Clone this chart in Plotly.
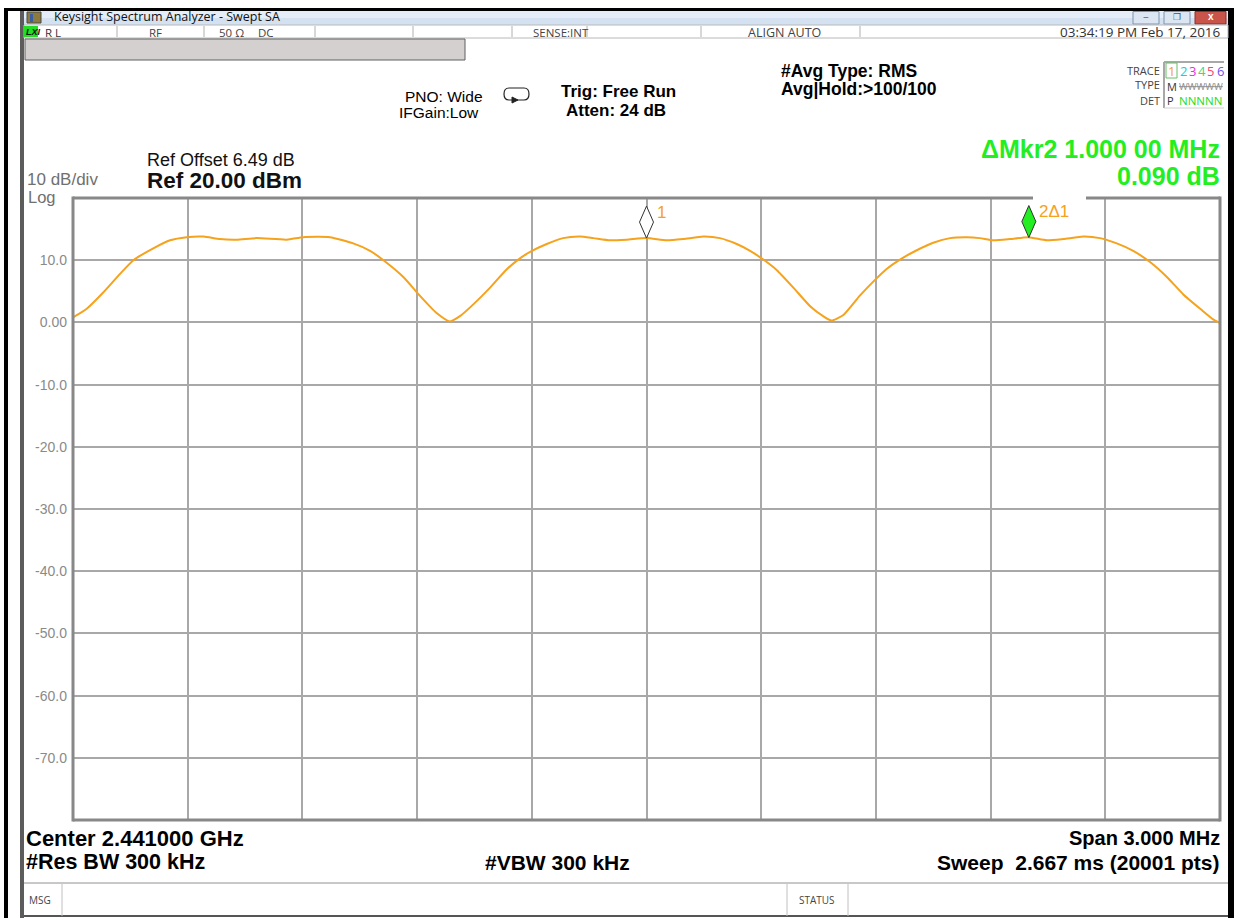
import plotly.graph_objects as go

freq_mhz = [2439.500, 2439.536, 2439.579, 2439.623, 2439.658, 2439.710, 2439.754, 2439.797,
            2439.841, 2439.884, 2439.928, 2439.980, 2440.059, 2440.102, 2440.172, 2440.233,
            2440.277, 2440.312, 2440.364, 2440.407, 2440.451, 2440.486,
            2440.512, 2440.547, 2440.591, 2440.634, 2440.669, 2440.698, 2440.739, 2440.782,
            2440.826, 2440.861, 2440.905, 2440.948, 2441.000, 2441.053, 2441.096, 2441.149,
            2441.192, 2441.236, 2441.271, 2441.301, 2441.341, 2441.384, 2441.428, 2441.462,
            2441.484,
            2441.515, 2441.558, 2441.597, 2441.628, 2441.663, 2441.707, 2441.750, 2441.794,
            2441.838, 2441.872, 2441.907, 2441.951, 2441.999, 2442.047, 2442.090, 2442.143,
            2442.186, 2442.230, 2442.273, 2442.317, 2442.361, 2442.404, 2442.450, 2442.483,
            2442.500]
level_dbm = [0.8, 2.2, 4.8, 7.8, 10.0, 11.9, 13.2, 13.7,
             13.8, 13.4, 13.3, 13.55, 13.3, 13.7, 13.7, 12.7,
             11.5, 10.0, 7.3, 4.3, 1.5, 0.15,
             1.0, 2.9, 5.6, 8.5, 10.3, 11.4, 12.6, 13.55,
             13.8, 13.55, 13.2, 13.3, 13.55, 13.2, 13.4, 13.8,
             13.55, 12.6, 11.5, 10.3, 8.4, 5.6, 2.6, 1.0,
             0.3,
             1.2, 4.3, 6.8, 8.6, 10.1, 11.6, 12.8, 13.55,
             13.7, 13.55, 13.2, 13.4, 13.7, 13.2, 13.4, 13.8,
             13.55, 12.7, 11.5, 9.7, 7.3, 4.5, 2.1, 0.45,
             -0.1]

marker_freq = [2441.000, 2442.000]
marker_level = [13.55, 13.64]
marker_label = ["1", "2\u03941"]

y_tick_vals = [10, 0, -10, -20, -30, -40, -50, -60, -70]
y_tick_text = ["10.0", "0.00", "-10.0", "-20.0", "-30.0", "-40.0", "-50.0", "-60.0", "-70.0"]

start_mhz, stop_mhz = 2439.5, 2442.5
ref_level, bottom_level = 20, -80

# ---------------- geometry helpers (pixel -> paper) ----------------
W, H = 1239, 918
L, R, T, B = 73, 1220, 198, 820
def px(x):
    return (x - L) / (R - L)
def py(y):
    return (B - y) / (B - T)

FONT = "Liberation Sans, Arial, sans-serif"
UIFONT = "Open Sans, DejaVu Sans, sans-serif"
shapes = []
annos = []

def rect(x0, y0, x1, y1, fill=None, line=None, lw=1, layer="above"):
    shapes.append(dict(type="rect", xref="paper", yref="paper",
                       x0=px(x0), x1=px(x1), y0=py(y1), y1=py(y0),
                       fillcolor=fill if fill else "rgba(0,0,0,0)",
                       line=dict(color=line if line else "rgba(0,0,0,0)", width=lw if line else 0),
                       layer=layer))

def seg(x0, y0, x1, y1, color, lw=1):
    shapes.append(dict(type="line", xref="paper", yref="paper",
                       x0=px(x0), x1=px(x1), y0=py(y0), y1=py(y1),
                       line=dict(color=color, width=lw)))

def text(x, y, s, size, color="#000", anchor="left", family=FONT):
    annos.append(dict(xref="paper", yref="paper", x=px(x), y=py(y), text=s, showarrow=False,
                      xanchor=anchor, yanchor="middle", borderpad=0,
                      font=dict(size=size, color=color, family=family)))

# ---------------- outer frame / window chrome ----------------
rect(4, 8, 1234, 11, fill="#000")          # top black frame
rect(4, 8, 8, 918, fill="#000")            # left black frame
rect(1228, 8, 1234, 918, fill="#000")      # right black frame
rect(20, 11, 24, 918, fill="#5c5c5c")      # window left edge
# title bar
rect(24, 11, 1228, 18, fill="#e4edf8")
rect(24, 18, 1228, 25, fill="#d3e1f1")
rect(27, 12, 41, 23, fill="#8c7b3c", line="#4a4a4a", lw=1)
rect(30, 14, 33, 22, fill="#3a5fa0")
text(53, 17, "Keysight Spectrum Analyzer - Swept SA", 12.5, "#111", family=UIFONT)
# window buttons
rect(1133, 11.5, 1159, 24, fill="#dce6f2", line="#7d93b0", lw=1)
text(1146, 17, "\u2012", 9, "#3a4f6f", anchor="center", family=UIFONT)
rect(1164, 11.5, 1190, 24, fill="#dce6f2", line="#7d93b0", lw=1)
text(1177, 17, "\u2750", 9, "#3a4f6f", anchor="center", family="DejaVu Sans")
rect(1195, 11.5, 1226, 24, fill="#c9554a", line="#8a3028", lw=1)
text(1210.5, 17, "<b>x</b>", 10, "#fff", anchor="center", family=FONT)
# status row
rect(24, 25, 1228, 38, fill="#ffffff", line="#b8b8b8", lw=1)
rect(24, 26, 38, 37, fill="#22dd22")
text(25, 31.5, "<b><i>LXI</i></b>", 9, "#111")
for sx in [117, 204, 315, 413, 512, 587, 701, 860]:
    seg(sx, 26, sx, 37, "#b0b0b0", 1)
text(44, 32, "R L", 11.5, "#333", family=UIFONT)
text(155, 32, "RF", 11.5, "#444", anchor="center", family=UIFONT)
text(218, 32, "50 \u03a9", 11.5, "#444", family=UIFONT)
text(257, 32, "DC", 11.5, "#444", family=UIFONT)
text(561, 32, "SENSE:INT", 11.5, "#444", anchor="center", family=UIFONT)
text(784, 32, "ALIGN AUTO", 12.5, "#444", anchor="center", family=UIFONT)
text(1222, 32, "03:34:19 PM Feb 17, 2016", 13.5, "#333", anchor="right", family=UIFONT)
# gray message bar
rect(25, 39, 465, 60, fill="#d4d0d0", line="#606060", lw=1)

# settings block
text(404, 97, "PNO: Wide", 15.5, "#000")
text(398, 113, "IFGain:Low", 15.5, "#000")
shapes.append(dict(type="path", xref="paper", yref="paper", layer="above",
                   path="M {a},{b} L {c},{b} Q {d},{b} {d},{e} Q {d},{f} {c},{f} L {a},{f} Q {g},{f} {g},{e} Q {g},{b} {a},{b} Z".format(
                       a=px(509), c=px(524), d=px(529), g=px(504), b=py(88), e=py(94), f=py(100)),
                   line=dict(color="#222", width=1.2)))
shapes.append(dict(type="path", xref="paper", yref="paper", layer="above",
                   path="M {a},{b} L {c},{d} L {c},{e} Z".format(a=px(518), b=py(100), c=px(512), d=py(97), e=py(103)),
                   fillcolor="#222", line=dict(color="#222", width=1)))
text(560, 91, "<b>Trig: Free Run</b>", 17, "#000")
text(565, 110, "<b>Atten: 24 dB</b>", 17, "#000")
text(780, 71, "<b>#Avg Type: RMS</b>", 17.5, "#000")
text(780, 89, "<b>Avg|Hold:&gt;100/100</b>", 17.5, "#000")

# trace table
text(1161, 70, "TRACE", 11, "#444", anchor="right", family=UIFONT)
text(1161, 85, "TYPE", 11, "#444", anchor="right", family=UIFONT)
text(1161, 100, "DET", 11, "#444", anchor="right", family=UIFONT)
seg(1164, 62, 1224, 62, "#a8a8a8", 2)
seg(1164, 62, 1164, 108, "#a8a8a8", 2)
seg(1164, 108, 1224, 108, "#d0d0d0", 1)
rect(1166, 63, 1177, 78, line="#66c066", lw=1)
text(1171.5, 71, "1", 13, "#f5a21c", anchor="center", family=UIFONT)
for i, (ch, col) in enumerate(zip("23456", ["#20c8e0", "#e030e0", "#40d880", "#ff4070", "#7050f0"])):
    text(1183 + i * 9.3, 71, ch, 13, col, anchor="center", family=UIFONT)
text(1166, 86, "M", 11, "#333", family=UIFONT)
text(1178, 86, "<s>WWWWW</s>", 9.5, "#8c8c8c", family=UIFONT)
text(1166, 101, "P", 11, "#333", family=UIFONT)
text(1178, 101, "NNNNN", 11.5, "#22dd22", family=UIFONT)

# delta marker readout
text(1221, 148.5, "<b>\u0394Mkr2 1.000 00 MHz</b>", 25, "#22ee22", anchor="right")
text(1221, 176, "<b>0.090 dB</b>", 25, "#22ee22", anchor="right")

# reference block
text(146, 160, "Ref Offset 6.49 dB", 18, "#111")
text(146, 180, "<b>Ref 20.00 dBm</b>", 22.5, "#111")
text(26, 179.5, "10 dB/div", 17, "#707070")
text(27, 197, "Log", 16.5, "#707070")

# graticule border (gap in top edge where the marker label sits)
BC = "#888888"
seg(L, T, 1033, T, BC, 3)
seg(1086, T, R, T, BC, 3)
seg(L, T - 1.5, L, B + 1.5, BC, 3)
seg(R, T - 1.5, R, B + 1.5, BC, 3)
seg(L, B, R, B, BC, 3)

# bottom annotation lines
text(25, 838, "<b>Center 2.441000 GHz</b>", 22, "#000")
text(25, 862, "<b>#Res BW 300 kHz</b>", 21.5, "#000")
text(557, 862, "<b>#VBW 300 kHz</b>", 21, "#000", anchor="center")
text(1221, 838, "<b>Span 3.000 MHz</b>", 20, "#000", anchor="right")
text(1221, 862, "<b>Sweep  2.667 ms (20001 pts)</b>", 21, "#000", anchor="right")

# bottom status bar
seg(24, 883, 1228, 883, "#c8c8c8", 2)
seg(24, 916, 1228, 916, "#555555", 2)
seg(62, 884, 62, 916, "#c0c0c0", 1)
seg(787, 884, 787, 916, "#c0c0c0", 1)
seg(848, 884, 848, 916, "#c0c0c0", 1)
text(28, 900, "MSG", 10, "#444", family=UIFONT)
text(817.5, 900, "STATUS", 10, "#444", anchor="center", family=UIFONT)

# markers (diamonds sit with their tip on the trace)
marker_fill = ["#ffffff", "#22ee22"]
for mf, ml, lab, fc in zip(marker_freq, marker_level, marker_label, marker_fill):
    shapes.append(dict(type="path", xref="x", yref="y", xsizemode="pixel", ysizemode="pixel",
                       xanchor=mf, yanchor=ml, path="M 0 0 L 7 16 L 0 32 L -7 16 Z",
                       fillcolor=fc, line=dict(color="#333", width=1), layer="above"))
    annos.append(dict(xref="x", yref="y", x=mf, y=ml, text=lab, showarrow=False,
                      xanchor="left", yanchor="middle", xshift=8, yshift=26,
                      font=dict(size=17, color="#f5a21c", family=FONT)))

# ---------------- figure ----------------
fig = go.Figure()
fig.add_trace(go.Scatter(x=freq_mhz, y=level_dbm, mode="lines",
                         line=dict(color="#f5a21c", width=2, shape="spline", smoothing=0.55),
                         hoverinfo="skip", showlegend=False))

fig.update_layout(
    width=W, height=H,
    margin=dict(l=L, r=W - R, t=T, b=H - B, pad=0),
    paper_bgcolor="#ffffff", plot_bgcolor="#ffffff",
    shapes=shapes, annotations=annos, showlegend=False,
    xaxis=dict(range=[start_mhz, stop_mhz], tickmode="linear", tick0=start_mhz, dtick=0.3,
               showticklabels=False, ticks="", showgrid=True, gridcolor="#a8a8a8", gridwidth=1.5,
               zeroline=False, showline=False, fixedrange=True),
    yaxis=dict(range=[bottom_level, ref_level], tickmode="array", tickvals=y_tick_vals, ticktext=y_tick_text,
               ticks="", showgrid=True, gridcolor="#a8a8a8", gridwidth=1.5, zeroline=False,
               showline=False, ticklabelstandoff=5,
               tickfont=dict(size=14, color="#8a8a8a", family=FONT), fixedrange=True),
)

fig.write_html("out.html", config={"displayModeBar": False},
               post_script="document.body.style.margin='0';document.body.style.overflow='hidden';")
